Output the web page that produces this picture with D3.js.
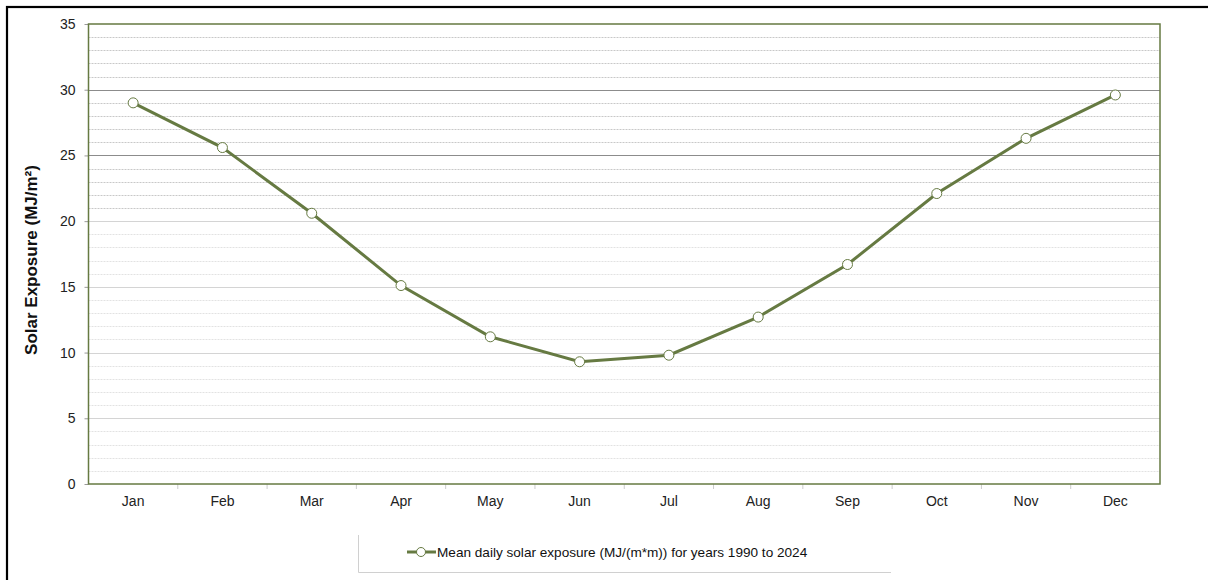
<!DOCTYPE html>
<html><head><meta charset="utf-8">
<script src="https://cdn.jsdelivr.net/npm/d3@7"></script>
<style>body{margin:0;background:#fff}svg{display:block;font-family:"Liberation Sans",Arial,sans-serif}</style>
</head><body><svg id="c" width="1208" height="580"></svg>
<script>
const months = ["Jan","Feb","Mar","Apr","May","Jun","Jul","Aug","Sep","Oct","Nov","Dec"];
const exposure = [29.0,25.6,20.6,15.1,11.2,9.3,9.8,12.7,16.7,22.1,26.3,29.6];
const yTicks = [0,5,10,15,20,25,30,35];
const seriesName = "Mean daily solar exposure (MJ/(m*m)) for years 1990 to 2024";
const yTitle = "Solar Exposure (MJ/m²)";

const svg = d3.select("#c");
const L=88.5, R=1160, T=24, B=484;
const green="#667a42";
const x = d3.scaleBand().domain(months).range([L,R]);
const y = d3.scaleLinear().domain([0,35]).range([B,T]);

// outer frame (left & top only visible)
svg.append("rect").attr("x",7).attr("y",7).attr("width",1300).attr("height",700)
  .attr("fill","none").attr("stroke","#000").attr("stroke-width",2.2);

// minor grid
const minor = d3.range(1,35).filter(v=>v%5!==0);
svg.append("g").selectAll("line").data(minor).join("line")
  .attr("x1",L).attr("x2",R).attr("y1",d=>Math.round(y(d))+0.5).attr("y2",d=>Math.round(y(d))+0.5)
  .attr("stroke",d=>d>20?"#c8c8c8":"#e2e2e2").attr("stroke-dasharray","2,1");
// major grid
svg.append("g").selectAll("line").data(yTicks.filter(v=>v>0&&v<35)).join("line")
  .attr("x1",L).attr("x2",R).attr("y1",d=>Math.round(y(d))+0.5).attr("y2",d=>Math.round(y(d))+0.5)
  .attr("stroke",d=>d>=25?"#8c8c8c":"#d4d4d4");

// y axis
const ya = svg.append("g").attr("transform",`translate(${L},0)`)
  .call(d3.axisLeft(y).tickValues(yTicks).tickSize(4).tickPadding(9));
ya.select(".domain").remove();
ya.selectAll(".tick line").attr("stroke","#999");
ya.selectAll("text").attr("font-size",14).attr("fill","#222").attr("font-family","Liberation Sans, Arial, sans-serif");

// x axis
const xa = svg.append("g").attr("transform",`translate(0,${B})`)
  .call(d3.axisBottom(x).tickSize(0).tickPadding(12));
xa.select(".domain").remove();
xa.selectAll("text").attr("font-size",14).attr("fill","#222").attr("font-family","Liberation Sans, Arial, sans-serif");
svg.append("g").selectAll("line").data(months.slice(1)).join("line")
  .attr("x1",d=>x(d)).attr("x2",d=>x(d)).attr("y1",B).attr("y2",B+5).attr("stroke","#ccc");

// plot border
svg.append("rect").attr("x",L).attr("y",T).attr("width",R-L).attr("height",B-T)
  .attr("fill","none").attr("stroke",green).attr("stroke-width",1.5);

// y title
svg.append("text").attr("transform",`translate(37,260) rotate(-90)`)
  .attr("text-anchor","middle").attr("font-size",17).attr("font-weight","bold").attr("fill","#111").text(yTitle);

// line
const cx = d=>x(d)+x.bandwidth()/2;
svg.append("path").datum(months.map((m,i)=>[cx(m),y(exposure[i])]))
  .attr("d",d3.line()).attr("fill","none").attr("stroke",green).attr("stroke-width",3);
svg.append("g").selectAll("circle").data(months).join("circle")
  .attr("cx",cx).attr("cy",(d,i)=>y(exposure[i])).attr("r",5)
  .attr("fill","#fff").attr("stroke",green).attr("stroke-width",1);

// legend
const lg = svg.append("g");
lg.append("path").attr("d","M358.5,535 V572.5 H891").attr("fill","none").attr("stroke","#d0d0d0");
lg.append("line").attr("x1",407).attr("x2",436).attr("y1",552).attr("y2",552).attr("stroke",green).attr("stroke-width",3);
lg.append("circle").attr("cx",421).attr("cy",552).attr("r",4.5).attr("fill","#fff").attr("stroke",green);
lg.append("text").attr("x",437).attr("y",557).attr("font-size",13.6).attr("fill","#111").text(seriesName);
</script></body></html>
